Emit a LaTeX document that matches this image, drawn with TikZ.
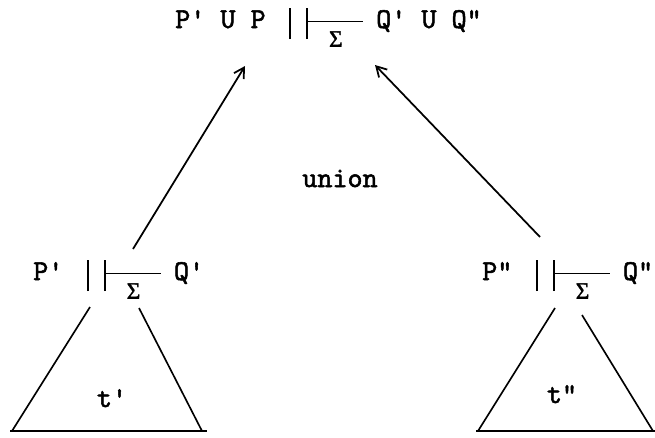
\documentclass[tikz,border=0pt]{standalone}
\usepackage{fontspec}
\usepackage{tikz}
\usetikzlibrary{arrows.meta, positioning}
\newfontfamily\tw{lmmono10-regular.otf}[FakeBold=1.8]
\newfontfamily\gk{Liberation Serif}[FakeBold=1.4]

% typewriter sequent pieces
\newcommand{\ebar}{\rule[-9.4pt]{1.8pt}{26.4pt}}
\newcommand{\entail}{\hspace{20pt}\ebar\hspace{12.8pt}\ebar\rule[5pt]{47pt}{1.3pt}%
  \llap{\makebox[47pt]{\raisebox{-16pt}[0pt][0pt]{\gk\fontsize{20}{20}\selectfont Σ}}}\hspace{11pt}}

\begin{document}
\begin{tikzpicture}[x=0.03cm, y=-0.03cm, >={Straight Barb[length=3mm, width=3.4mm]},
    seq/.style={anchor=base west, inner sep=0pt, font=\tw\fontsize{24.5}{28}\selectfont},
    lbl/.style={anchor=base, inner sep=0pt, font=\tw\fontsize{24.5}{28}\selectfont},
    link/.style={->, line width=1.5pt},
    tree/.style={line width=1.4pt}]
  \useasboundingbox (0,0) rectangle (655,437);

  % conclusion
  \node[seq] (top) at (175,28) {P' U P\entail Q' U Q"};

  % premises
  \node[seq] (lseq) at (33,280) {P'\entail Q'};
  \node[seq] (rseq) at (482,280) {P"\entail Q"};

  \node[lbl] (un) at (340,187) {union};

  % arrow ends
  \coordinate (ltail) at (133,249);
  \coordinate (lhead) at (245,66);
  \coordinate (rtail) at (540,237);
  \coordinate (rhead) at (375,65);
  \draw[link] (ltail) -- (lhead);
  \draw[link] (rtail) -- (rhead);

  % subtrees
  \coordinate (la) at (90,307);
  \coordinate (lb) at (139,308);
  \coordinate (lc) at (12,431);
  \coordinate (ld) at (202,431);
  \draw[tree] (la) -- (lc) (lb) -- (ld);
  \draw[line width=1.9pt] (10,431) -- (207,431);
  \node[lbl] (lt) at (112,407) {t'};

  \coordinate (ra) at (555,308);
  \coordinate (rb) at (582,315);
  \coordinate (rc) at (478,431);
  \coordinate (rd) at (653,431);
  \draw[tree] (ra) -- (rc) (rb) -- (rd);
  \draw[line width=1.9pt] (476,431) -- (660,431);
  \node[lbl] (rt) at (562,403) {t"};
\end{tikzpicture}
\end{document}
